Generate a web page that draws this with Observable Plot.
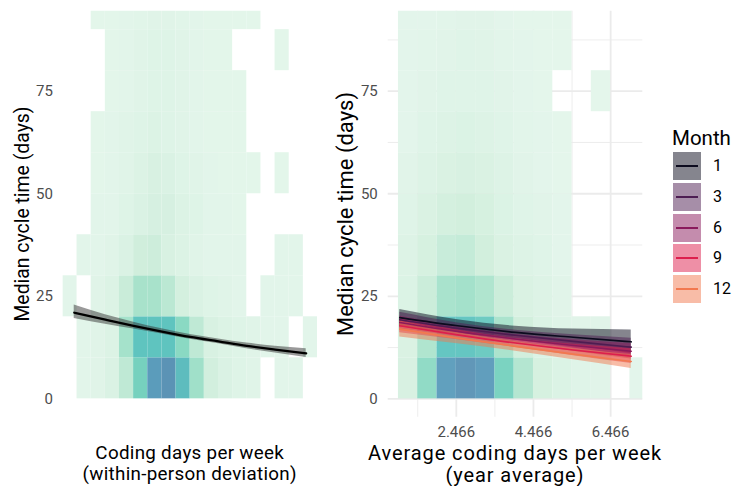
<!DOCTYPE html>
<html>
<head>
<meta charset="utf-8">
<script src="https://cdn.jsdelivr.net/npm/d3@7"></script>
<script src="https://cdn.jsdelivr.net/npm/@observablehq/plot@0.6"></script>
<style>
  body { margin: 0; background: #fff; }
  #root { position: relative; width: 732px; height: 486px; background: #fff; font-family: Roboto, "Noto Sans", sans-serif; overflow: hidden; }
  .abs { position: absolute; }
  .ytitle { position: absolute; white-space: nowrap; transform: translate(-50%, -50%) rotate(-90deg); color: #000; }
  .xtitle { position: absolute; text-align: center; white-space: nowrap; color: #000; transform: translateX(-50%); }
  .key { position: absolute; width: 28px; height: 28px; }
  .keyline { position: absolute; left: 3px; right: 3px; top: 13px; height: 2px; }
  .klabel { position: absolute; font-size: 16px; color: #000; }
</style>
</head>
<body>
<div id="root">
  <div id="left" class="abs" style="left:0;top:0"></div>
  <div id="right" class="abs" style="left:330px;top:0"></div>
</div>
<script>
// ---------- data ----------
// Heat-map density level per 10-day row (0-10, 10-20, ... 90-100); 0 = empty cell
// Left panel: 18 columns, 0.5-wide bins from -4.5 to 4.5 (within-person deviation)
const leftRow0 = [0,1.1,1.2,1.5,2.5,5,7,8,6.2,3.5,1.9,1.5,1.3,1.2,0,1.1,1.1,0];
const leftRow1 = [0,1.1,1.2,1.4,3.3,6,6,6,4.3,2.5,1.6,1.4,1.3,1.2,1.1,1.1,0,1.1];
const leftRow2 = [1.1,0,1.2,1.4,2.2,3.2,3.2,2.6,1.8,1.5,1.3,1.2,1.1,0,1.1,1.1,1.1,0];
const leftRow3 = [0,1.1,1.1,1.2,1.5,2,2.1,1.6,1.4,1.2,1.1,1.1,1.1,0,0,1.1,1.1,0];
const leftRow4 = [0,0,1.1,1.1,1.3,1.5,1.7,1.7,1.4,1.3,1.1,1.1,1.05,0,0,0,0,0];
const leftRow5 = [0,0,1.05,1.1,1.2,1.4,1.6,1.5,1.3,1.2,1.1,1.05,1.05,1.05,0,1.05,0,0];
const leftRow6 = [0,0,1.05,1.1,1.2,1.3,1.4,1.3,1.2,1.1,1.05,1.05,1.05,0,0,0,0,0];
const leftRow7 = [0,0,0,1.05,1.1,1.2,1.3,1.3,1.2,1.1,1.05,1.05,1.05,0,0,0,0,0];
const leftRow8 = [0,0,0,1.05,1.1,1.2,1.3,1.3,1.2,1.1,1.05,1.05,0,0,0,1.05,0,0];
const leftRow9 = [0,0,1.05,1.05,1.1,1.15,1.2,1.2,1.15,1.1,1.05,1.05,1.05,1.05,0,0,0,0];

// Right panel: 13 columns, 0.5-wide bins starting at 0.966 (year-average coding days)
const rightRow0 = [1.7,4.2,7,8,7.2,5,2.9,1.8,1.5,1.3,1.2,0,1.1];
const rightRow1 = [1.6,3,6,6,5.6,3.2,2,1.5,1.3,1.2,1.2,0,0];
const rightRow2 = [1.5,2.2,3.3,3.5,3,2.2,1.6,1.4,1.2,0,0,0,0];
const rightRow3 = [1.4,1.8,2.3,2.4,2,1.6,1.4,1.3,1.1,0,0,0,0];
const rightRow4 = [1.3,1.6,1.9,2,1.8,1.5,1.3,1.2,1.1,0,0,0,0];
const rightRow5 = [1.2,1.4,1.6,1.7,1.6,1.4,1.2,1.1,1.05,0,0,0,0];
const rightRow6 = [1.1,1.3,1.4,1.5,1.4,1.3,1.15,1.1,1.05,0,0,0,0];
const rightRow7 = [1.1,1.2,1.3,1.3,1.3,1.2,1.1,1.05,0,0,1.05,0,0];
const rightRow8 = [1.1,1.15,1.2,1.3,1.25,1.15,1.1,1.05,1.05,0,0,0,0];
const rightRow9 = [1.1,1.1,1.15,1.2,1.2,1.1,1.05,1.05,1.05,0,0,0,0];

// Left fitted curve
const leftX     = [-4.1, -3, -2, -1, 0, 1, 2, 3, 4.1];
const leftFit   = [21.0, 19.3, 17.8, 16.4, 15.1, 14.0, 12.9, 12.0, 11.1];
const leftLower = [19.6, 18.2, 17.0, 15.8, 14.5, 13.4, 12.2, 11.2, 10.1];
const leftUpper = [22.9, 20.5, 18.7, 17.1, 15.7, 14.6, 13.6, 12.8, 12.2];

// Right fitted curves by month
const months = [1, 3, 6, 9, 12];
const monthColors = ["#0c0b1e", "#4d1d52", "#8a1a5c", "#dd1f4d", "#f2794f"];
const rightX = [1, 2.5, 4, 5.5, 7];
const fitM1  = [19.8, 17.8, 16.2, 15.0, 13.9];
const fitM3  = [19.3, 17.2, 15.5, 14.0, 12.6];
const fitM6  = [18.6, 16.4, 14.6, 13.0, 11.6];
const fitM9  = [17.8, 15.6, 13.6, 11.9, 10.4];
const fitM12 = [17.0, 14.8, 12.8, 10.9, 9.1];
const halfM1  = [2.0, 1.5, 1.5, 2.0, 2.9];
const halfM3  = [1.8, 1.3, 1.2, 1.6, 2.2];
const halfM6  = [1.6, 1.2, 1.1, 1.4, 1.9];
const halfM9  = [1.7, 1.2, 1.1, 1.4, 1.8];
const halfM12 = [1.9, 1.4, 1.2, 1.4, 1.7];

// Axis ticks / grid
const yTicks = [0, 25, 50, 75];
const yMinor = [12.5, 37.5, 62.5, 87.5];
const xTicksRight = [2.466, 4.466, 6.466];
const xMinorRight = [1.466, 3.466, 5.466];

// Density colour ramp
const rampLevels = [1, 2, 3, 4, 5, 6, 7, 8];
const rampColors = ["#e4f6eb", "#d0eedc", "#ade4cd", "#92dcc5", "#76d1be", "#5fc4bf", "#5b9cbb", "#5b93b5"];

// ---------- build tables ----------
function tiles(rows, x0, w) {
  const out = [];
  rows.forEach((row, r) => row.forEach((v, k) => {
    if (v > 0) out.push({x1: x0 + w * k, x2: x0 + w * (k + 1), y1: 10 * r, y2: 10 * r + 10, v});
  }));
  return out;
}
const leftTiles = tiles([leftRow0,leftRow1,leftRow2,leftRow3,leftRow4,leftRow5,leftRow6,leftRow7,leftRow8,leftRow9], -4.5, 0.5);
const rightTiles = tiles([rightRow0,rightRow1,rightRow2,rightRow3,rightRow4,rightRow5,rightRow6,rightRow7,rightRow8,rightRow9], 0.966, 0.5);

const leftCurve = leftX.map((x, i) => ({x, y: leftFit[i], lo: leftLower[i], hi: leftUpper[i]}));
const fits = [fitM1, fitM3, fitM6, fitM9, fitM12];
const halves = [halfM1, halfM3, halfM6, halfM9, halfM12];
const rightCurves = [];
months.forEach((m, j) => rightX.forEach((x, i) => rightCurves.push({
  month: String(m), x, y: fits[j][i], lo: fits[j][i] - halves[j][i], hi: fits[j][i] + halves[j][i]
})));

const colorScale = {type: "linear", domain: rampLevels, range: rampColors};
const H = 486, MT = 10.7, MB = H - 416.8;

const left = Plot.plot({
  width: 330, height: H,
  marginLeft: 62.4, marginRight: 330 - 317, marginTop: MT, marginBottom: MB,
  x: {domain: [-4.5, 4.5], axis: null},
  y: {domain: [-4.5, 94.5], ticks: yTicks, tickSize: 0, tickPadding: 10, label: null},
  color: colorScale,
  style: {fontFamily: "Roboto", fontSize: "15px", color: "#4d4d4d", background: "transparent"},
  marks: [
    Plot.rect(leftTiles, {x1: "x1", x2: "x2", y1: "y1", y2: "y2", fill: "v", clip: true}),
    Plot.areaY(leftCurve, {x: "x", y1: "lo", y2: "hi", fill: "#333", fillOpacity: 0.5, curve: "monotone-x"}),
    Plot.line(leftCurve, {x: "x", y: "y", stroke: "#000", strokeWidth: 2.2, curve: "monotone-x"})
  ]
});
document.getElementById("left").appendChild(left);

const right = Plot.plot({
  width: 330, height: H,
  marginLeft: 387.7 - 330, marginRight: 330 - (642.3 - 330), marginTop: MT, marginBottom: MB,
  x: {domain: [0.7, 7.3], ticks: xTicksRight, tickFormat: d => d.toFixed(3), tickSize: 0, tickPadding: 9, label: null},
  y: {domain: [-4.5, 94.5], ticks: yTicks, tickSize: 0, tickPadding: 10.4, label: null},
  color: colorScale,
  style: {fontFamily: "Roboto", fontSize: "15px", color: "#4d4d4d", background: "transparent"},
  marks: [
    Plot.ruleY(yMinor, {stroke: "#ebebeb", strokeWidth: 0.9}),
    Plot.ruleX(xMinorRight, {stroke: "#ebebeb", strokeWidth: 0.9}),
    Plot.ruleY(yTicks, {stroke: "#ebebeb", strokeWidth: 1.8}),
    Plot.ruleX(xTicksRight, {stroke: "#ebebeb", strokeWidth: 1.8}),
    Plot.rect(rightTiles, {x1: "x1", x2: "x2", y1: "y1", y2: "y2", fill: "v", fillOpacity: 0.96, clip: true}),
    ...months.map((m, j) => Plot.areaY(rightCurves.filter(d => d.month === String(m)),
      {x: "x", y1: "lo", y2: "hi", fill: monthColors[j], fillOpacity: 0.5, curve: "monotone-x"})),
    ...months.map((m, j) => Plot.line(rightCurves.filter(d => d.month === String(m)),
      {x: "x", y: "y", stroke: monthColors[j], strokeWidth: 1.6, curve: "monotone-x"}))
  ]
});
document.getElementById("right").appendChild(right);

// ---------- titles ----------
const root = document.getElementById("root");
function add(html) { root.insertAdjacentHTML("beforeend", html); }
add(`<div class="ytitle" style="left:21.5px;top:214px;font-size:19.4px">Median cycle time (days)</div>`);
add(`<div class="ytitle" style="left:345px;top:214px;font-size:22px">Median cycle time (days)</div>`);
const lt = "font-size:18.8px;line-height:19px;letter-spacing:0.3px";
add(`<div class="xtitle" style="left:189.7px;top:444px;${lt}">Coding days per week</div>`);
add(`<div class="xtitle" style="left:189.7px;top:465px;${lt}">(within-person deviation)</div>`);
const rt = "font-size:20px;line-height:20px;letter-spacing:0.9px";
add(`<div class="xtitle" style="left:515px;top:443px;${rt}">Average coding days per week</div>`);
add(`<div class="xtitle" style="left:515px;top:465px;${rt}">(year average)</div>`);

// ---------- legend ----------
add(`<div class="abs" style="left:672px;top:126px;font-size:20.5px;color:#000">Month</div>`);
months.forEach((m, j) => {
  const top = 152 + j * 30.8;
  const c = d3.color(monthColors[j]); c.opacity = 0.5;
  add(`<div class="key" style="left:673px;top:${top}px;background:${c.formatRgb()}"><div class="keyline" style="background:${monthColors[j]}"></div></div>`);
  add(`<div class="klabel" style="left:713px;top:${top + 4}px">${m}</div>`);
});
</script>
</body>
</html>
